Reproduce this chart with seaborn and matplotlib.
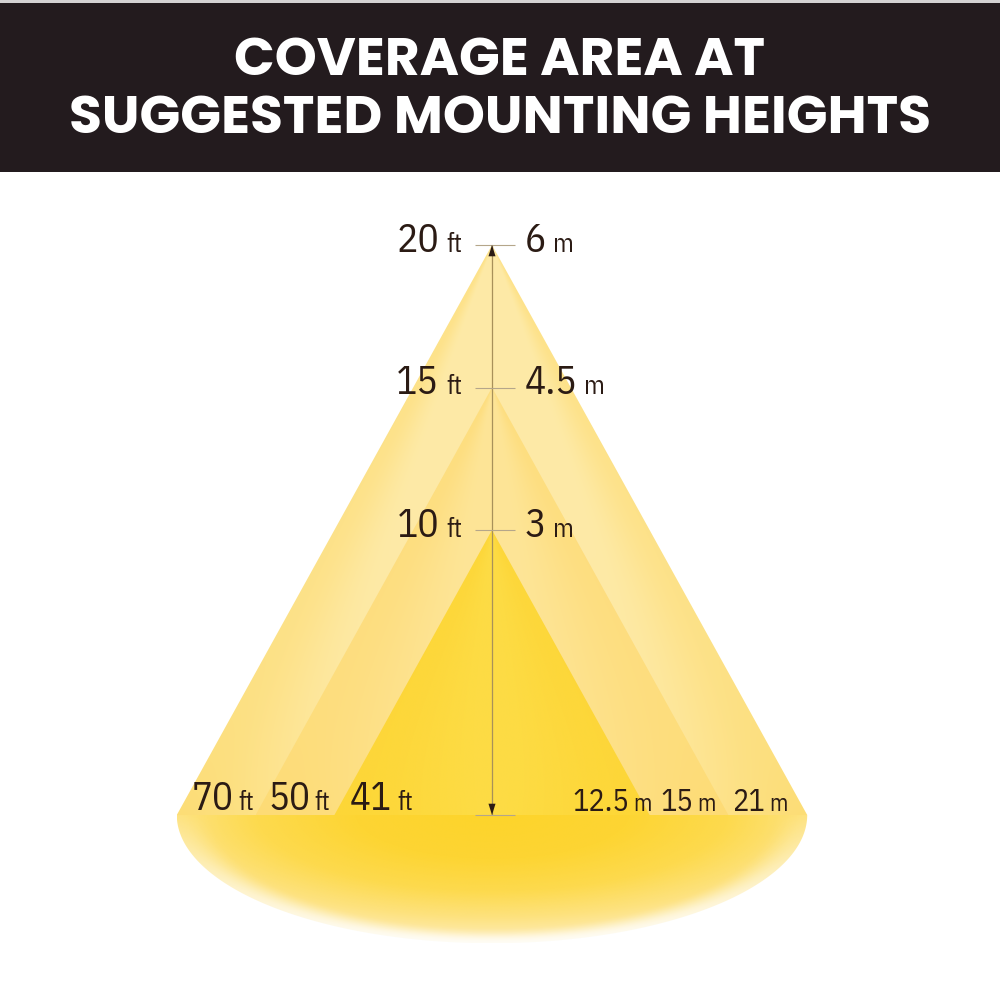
import numpy as np
import matplotlib
matplotlib.use("Agg")
import matplotlib.pyplot as plt
import seaborn as sns
from matplotlib.patches import Polygon, Rectangle
from matplotlib.colors import to_rgb

sns.set_theme(style="white")
plt.rcParams["font.family"] = ["IBM Plex Sans Condensed", "Roboto Condensed", "Liberation Sans", "DejaVu Sans"]

# ---------------- data ----------------
title_lines = ["COVERAGE AREA AT", "SUGGESTED MOUNTING HEIGHTS"]
mount_heights_ft = [20, 15, 10]
mount_heights_m = ["6", "4.5", "3"]
coverage_ft = ["70", "50", "41"]          # outer -> inner
coverage_m = ["12.5", "15", "21"]         # inner -> outer

# ---------------- layout ----------------
PX = 28.5            # pixels per ft unit
CX, FLOOR = 492, 815 # pixel position of axis centre / floor line
SPREAD = 0.553       # schematic cone half-width per unit height
BASE_DEPTH = 4.5     # floor ellipse semi-minor axis
TXT = "#2b1b14"

def px2x(p):
    return (p - CX) / PX

def py2y(p):
    return (FLOOR - p) / PX

fig = plt.figure(figsize=(10, 10), dpi=100, facecolor="white")
ax = fig.add_axes([0, 0, 1, 1])
ax.set_facecolor("none")


def mix(c1, c2, t):
    a = np.array(to_rgb(c1)); b = np.array(to_rgb(c2))
    t = np.clip(t, 0, 1)[..., None]
    return a * (1 - t) + b * t


def smooth(t):
    t = np.clip(t, 0, 1)
    return t * t * (3 - 2 * t)


def gradient_patch(verts, color_fn, zorder, res=500):
    verts = np.asarray(verts)
    poly = Polygon(verts, closed=True, facecolor="none", edgecolor="none", zorder=zorder)
    ax.add_patch(poly)
    x0, x1 = verts[:, 0].min(), verts[:, 0].max()
    y0, y1 = verts[:, 1].min(), verts[:, 1].max()
    X, Y = np.meshgrid(np.linspace(x0, x1, res), np.linspace(y0, y1, res))
    img = color_fn(X, Y)
    im = ax.imshow(img, extent=(x0, x1, y0, y1), origin="lower",
                   interpolation="bilinear", zorder=zorder, aspect="auto")
    im.set_clip_path(poly)


# floor ellipse (lower half)
a_base = SPREAD * max(mount_heights_ft)
theta = np.linspace(np.pi, 2 * np.pi, 200)
ell = np.column_stack([a_base * np.cos(theta), BASE_DEPTH * np.sin(theta)])


def base_color(X, Y):
    r = np.sqrt((X / (a_base * 1.25)) ** 2 + (Y / BASE_DEPTH) ** 2)
    stops = [0.0, 0.35, 0.6, 0.8, 0.93, 1.0]
    cols = ["#fdd42b", "#fdd533", "#fdda4e", "#fde27e", "#feeaa8", "#fff2cc"]
    rgb = np.array([to_rgb(c) for c in cols])
    out = np.stack([np.interp(r, stops, rgb[:, k]) for k in range(3)], axis=-1)
    rt = np.sqrt((X / a_base) ** 2 + (Y / BASE_DEPTH) ** 2)
    down = np.clip((-Y / BASE_DEPTH) / np.maximum(rt, 1e-6), 0, 1) ** 0.8
    alpha = 1 - 0.8 * smooth((rt - 0.88) / 0.12) * down
    return np.concatenate([out, alpha[..., None]], axis=-1)

gradient_patch(ell, base_color, zorder=1)

# cones
styles = {
    20: ("#feeaa7", "#fde28a", 0.6, "#fcd862"),
    15: ("#fee597", "#fdde80", 0.2, "#fdd96a"),
    10: ("#fddc45", "#fdd73a", 0.0, "#fdd634"),
}
for i, h in enumerate(mount_heights_ft):
    hw = SPREAD * h
    verts = [(0, h), (-hw, 0), (hw, 0)]
    light, strong, start, floorc = styles[h]

    def cfn(X, Y, h=h, light=light, strong=strong, start=start, floorc=floorc):
        half = np.maximum(SPREAD * (h - Y), 1e-6)
        t = np.abs(X) / half
        col = mix(light, strong, smooth((t - start) / (1 - start)))
        bottom = (np.clip(1 - Y / h, 0, 1) ** 5 * 0.5) * np.clip(t, 0, 1)
        return col * (1 - bottom[..., None]) + np.array(to_rgb(floorc)) * bottom[..., None]

    gradient_patch(verts, cfn, zorder=2 + i)

# vertical dimension line with arrow heads
top = max(mount_heights_ft)
ax.plot([0, 0], [0, top], color="#a8915a", lw=0.9, zorder=10)
for tip, tail in [(top, top - 1), (0, 1)]:
    ax.annotate("", xy=(0, tip), xytext=(0, tail),
                arrowprops=dict(arrowstyle="-|>,head_length=0.45,head_width=0.14",
                                color="#2b1b14", lw=0.01, shrinkA=0, shrinkB=0,
                                mutation_scale=18), zorder=11)

# small horizontal tick lines
ax.hlines(mount_heights_ft + [0], px2x(475), px2x(515), color="#b5a68a", lw=0.8, zorder=10)

# height labels
for h, m in zip(mount_heights_ft, mount_heights_m):
    yb = h - 0.24
    u = ax.text(px2x(462), yb, "ft", ha="right", va="baseline", fontsize=19, color=TXT, zorder=12)
    ax.annotate(str(h), xy=(0, yb), xycoords=(u, "data"), xytext=(-5, 0),
                textcoords="offset points", ha="right", va="baseline",
                fontsize=28.5, color=TXT, zorder=12)
    n = ax.text(px2x(525), yb, m, ha="left", va="baseline", fontsize=28.5, color=TXT, zorder=12)
    ax.annotate("m", xy=(1, yb), xycoords=(n, "data"), xytext=(4.5, 0),
                textcoords="offset points", ha="left", va="baseline",
                fontsize=19, color=TXT, zorder=12)

# coverage labels
left_px = [192, 268, 350]
right_px = [572, 660, 732]
for txt, xp in zip(coverage_ft, left_px):
    n = ax.text(px2x(xp), py2y(810), txt, ha="left", va="baseline", fontsize=28, color=TXT, zorder=12)
    ax.annotate("ft", xy=(1, py2y(810)), xycoords=(n, "data"), xytext=(3.5, 0),
                textcoords="offset points", ha="left", va="baseline",
                fontsize=18.5, color=TXT, zorder=12)
for txt, xp in zip(coverage_m, right_px):
    n = ax.text(px2x(xp), py2y(811), txt, ha="left", va="baseline", fontsize=22, color=TXT, zorder=12)
    ax.annotate("m", xy=(1, py2y(811)), xycoords=(n, "data"), xytext=(3.5, 0),
                textcoords="offset points", ha="left", va="baseline",
                fontsize=17, color=TXT, zorder=12)

ax.set_xlim(px2x(0), px2x(1000))
ax.set_ylim(py2y(1000), py2y(0))
ax.axis("off")

# header band
fig.patches.append(Rectangle((0, 0.997), 1, 0.003, transform=fig.transFigure,
                             facecolor="#d4d2d3", edgecolor="none", zorder=1))
fig.patches.append(Rectangle((0, 0.828), 1, 0.169, transform=fig.transFigure,
                             facecolor="#231b1e", edgecolor="none", zorder=1))
for line, yb in zip(title_lines, [0.925, 0.867]):
    fig.text(0.5, yb, line, ha="center", va="baseline", color="white",
             fontsize=38.5, fontweight="bold", family=["Poppins", "Lato", "DejaVu Sans"], zorder=5)

fig.savefig("out.png", dpi=100, facecolor="white")
